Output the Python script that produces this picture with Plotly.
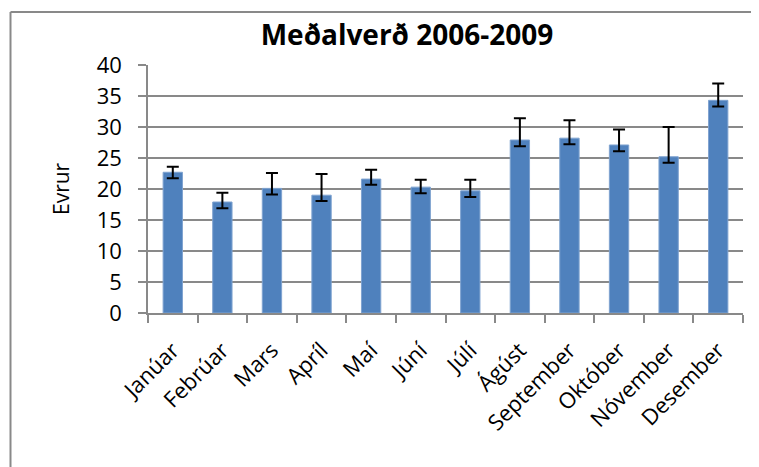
import plotly.graph_objects as go

# Monthly average price (EUR) with asymmetric error bars
months = ["Janúar", "Febrúar", "Mars", "Apríl", "Maí", "Júní",
          "Júlí", "Ágúst", "September", "Október", "Nóvember", "Desember"]
avg_price = [22.7, 17.9, 20.1, 19.0, 21.6, 20.3, 19.7, 27.9, 28.2, 27.1, 25.2, 34.3]
err_plus = [0.9, 1.5, 2.5, 3.4, 1.5, 1.2, 1.8, 3.5, 2.9, 2.5, 4.8, 2.7]
err_minus = [0.95, 1.0, 1.0, 0.95, 0.9, 1.0, 1.0, 1.0, 1.0, 1.0, 0.95, 1.0]
y_ticks = [0, 5, 10, 15, 20, 25, 30, 35, 40]

# page body adds 8px margin, so the figure is drawn 8px smaller / shifted
off = 8
W, H = 759 - off, 467 - off
L, R, T, B = 148 - off, 16, 65 - off, 154
pw, ph = W - L - R, H - T - B

font = "Open Sans"
grey = "#898989"

# chart frame edges (only top and left are inside the picture)
bx = (10.5 - off - L) / pw
by = 1 + (T - (12 - off)) / ph

fig = go.Figure(
    go.Bar(
        x=months,
        y=avg_price,
        marker=dict(color="#4f81bd", line=dict(color="#7fa3d0", width=1)),
        error_y=dict(
            type="data",
            symmetric=False,
            array=err_plus,
            arrayminus=err_minus,
            color="black",
            thickness=2,
            width=6,
        ),
    )
)

fig.update_layout(
    width=W,
    height=H,
    margin=dict(l=L, r=R, t=T, b=B, autoexpand=False),
    plot_bgcolor="white",
    paper_bgcolor="white",
    bargap=0.61,
    showlegend=False,
    font=dict(family=font, size=20, color="black"),
    title=dict(
        text="<b>Meðalverð 2006-2009</b>",
        x=(407 - off) / W,
        xanchor="center",
        y=1 - (35 - off) / H,
        yanchor="middle",
        font=dict(family=font, size=28, color="black"),
    ),
    # y axis title
    annotations=[
        dict(
            text="Evrur",
            xref="paper",
            yref="paper",
            x=(61 - off - L) / pw,
            y=0.5,
            xanchor="center",
            yanchor="middle",
            textangle=-90,
            showarrow=False,
            font=dict(family=font, size=21, color="black"),
        )
    ],
    shapes=[
        dict(type="line", xref="paper", yref="paper",
             x0=bx, x1=1.3, y0=by, y1=by,
             line=dict(color=grey, width=2), layer="below"),
        dict(type="line", xref="paper", yref="paper",
             x0=bx, x1=bx, y0=-1.0, y1=by,
             line=dict(color=grey, width=2), layer="below"),
    ],
)

fig.update_xaxes(
    showline=True,
    linecolor=grey,
    linewidth=1.5,
    ticks="outside",
    tickson="boundaries",
    ticklen=8,
    tickcolor=grey,
    tickwidth=1.5,
    tickangle=-45,
    tickfont=dict(size=22),
    ticklabelstandoff=14,
    showgrid=False,
    automargin=False,
)

fig.update_yaxes(
    range=[0, 40],
    tickvals=y_ticks,
    showline=True,
    linecolor=grey,
    linewidth=1.5,
    ticks="outside",
    ticklen=8,
    tickcolor=grey,
    tickwidth=1.5,
    showgrid=True,
    gridcolor=grey,
    gridwidth=1.5,
    zeroline=False,
    tickfont=dict(size=22),
    ticklabelstandoff=12,
    automargin=False,
)

fig.write_html("out.html", config=dict(displayModeBar=False))
